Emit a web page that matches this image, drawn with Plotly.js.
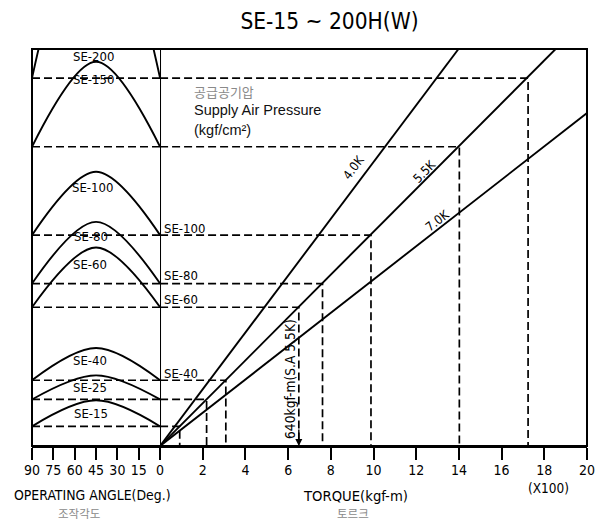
<!DOCTYPE html>
<html>
<head>
<meta charset="utf-8">
<script src="https://cdn.plot.ly/plotly-3.0.1.min.js"></script>
<style>html,body{margin:0;padding:0;background:#fff;}#chart{width:607px;height:520px;}</style>
</head>
<body>
<div id="chart"></div>
<script>
// ---- data ----
const models = ['SE-15', 'SE-25', 'SE-40', 'SE-60', 'SE-80', 'SE-100', 'SE-150', 'SE-200'];
// output torque at 5.5 kgf/cm2 (x100 kgf-m) = level of each dashed line
const torqueAt55 = [0.92, 2.18, 3.08, 6.5, 7.61, 9.88, 14.02, 17.24];
// top of each torque curve in the operating-angle panel (same units)
const curvePeak = [2.14, 3.31, 4.59, 9.30, 10.50, 12.85, 18.0, 26.3];
const curveAngles = [90, 45, 0];
// supply-pressure lines: end point of each line from the origin
const pressureNames = ['4.0K', '5.5K', '7.0K'];
const pressureEndTorque = [13.98, 18.53, 20];
const pressureEndLevel = [18.6, 18.6, 15.6];
const angleTicks = [90, 75, 60, 45, 30, 15, 0];
const torqueTicks = [2, 4, 6, 8, 10, 12, 14, 16, 18, 20];

// ---- layout helpers ----
const NARROW = '"Liberation Sans Narrow", "Arial Narrow", "DejaVu Sans Condensed", sans-serif';
const SANS = '"Liberation Sans", Arial, sans-serif';
const KR = '"Noto Sans CJK KR", "Noto Sans CJK SC", sans-serif';
const M = {l: 32, r: 20, t: 49, b: 74};
const W = 607, H = 520;
const PW = W - M.l - M.r, PH = H - M.t - M.b;
function P(px, py) { return {x: (px - M.l) / PW, y: (H - M.b - py) / PH, xref: 'paper', yref: 'paper'}; }
const splitFrac = 6 / 26;

const traces = [];
const solid = {color: '#000', width: 1.9};
const dashed = {color: '#000', width: 1.7, dash: '8px,4px'};

// torque curves (operating angle panel)
models.forEach((m, i) => {
  traces.push({x: curveAngles, y: [torqueAt55[i], curvePeak[i], torqueAt55[i]],
    xaxis: 'x2', yaxis: 'y', mode: 'lines', line: Object.assign({shape: 'spline', smoothing: 1}, solid),
    hoverinfo: 'skip', showlegend: false});
  traces.push({x: [curveAngles[0], curveAngles[2]], y: [torqueAt55[i], torqueAt55[i]],
    xaxis: 'x2', yaxis: 'y', mode: 'lines', line: dashed, hoverinfo: 'skip', showlegend: false});
  traces.push({x: [0, torqueAt55[i], torqueAt55[i]], y: [torqueAt55[i], torqueAt55[i], 0],
    xaxis: 'x', yaxis: 'y', mode: 'lines', line: dashed, hoverinfo: 'skip', showlegend: false});
});
// pressure lines
pressureNames.forEach((p, i) => {
  traces.push({x: [0, pressureEndTorque[i]], y: [0, pressureEndLevel[i]], xaxis: 'x', yaxis: 'y',
    mode: 'lines', line: solid, name: p, hoverinfo: 'skip', showlegend: false});
});

const tickFont = {family: NARROW, size: 14, color: '#000'};
const layout = {
  width: W, height: H, margin: M, paper_bgcolor: '#fff', plot_bgcolor: '#fff', showlegend: false,
  title: {text: 'SE-15 ~ 200H(W)', font: {family: NARROW, size: 22.5, color: '#000'},
    x: 329.5 / W, xref: 'container', xanchor: 'center', y: 1 - 21 / H, yref: 'container', yanchor: 'middle'},
  xaxis2: {domain: [0, splitFrac], range: [90, 0], anchor: 'y', tickvals: angleTicks, ticktext: angleTicks.map(String),
    ticks: 'outside', ticklen: 12, tickwidth: 2, tickcolor: '#000', tickfont: tickFont, ticklabelstandoff: -2,
    showgrid: false, zeroline: false, showline: true, linecolor: '#000', linewidth: 2},
  xaxis: {domain: [splitFrac, 1], range: [0, 20], anchor: 'y', tickvals: torqueTicks, ticktext: torqueTicks.map(String),
    ticks: 'outside', ticklen: 12, tickwidth: 2, tickcolor: '#000', tickfont: tickFont, ticklabelstandoff: -2,
    showgrid: false, zeroline: false, showline: true, linecolor: '#000', linewidth: 2},
  yaxis: {range: [0, 18.6], anchor: 'x2', showgrid: false, zeroline: false, showline: false,
    showticklabels: false, ticks: ''},
  shapes: [
    {type: 'rect', xref: 'paper', yref: 'paper', x0: 0, x1: 1, y0: 0, y1: 1, line: {color: '#000', width: 2}},
    {type: 'line', xref: 'x', yref: 'paper', x0: 0, x1: 0, y0: 0, y1: 1, line: {color: '#000', width: 1.9}}
  ],
  annotations: []
};

const A = layout.annotations;
function label(text, px, py, opts) {
  A.push(Object.assign(P(px, py), {text: text, showarrow: false, xanchor: 'center', yanchor: 'middle',
    font: {family: NARROW, size: 13, color: '#000'}}, opts || {}));
}
// axis titles
label('OPERATING ANGLE(Deg.)', 92, 495, {font: {family: NARROW, size: 13.9, color: '#000'}});
label('조작각도', 79, 513, {font: {family: KR, size: 11.5, color: '#8a8a8a'}});
label('TORQUE(kgf-m)', 355, 495, {font: {family: NARROW, size: 14.7, color: '#000'}});
label('토르크', 353, 513, {font: {family: KR, size: 11.5, color: '#8a8a8a'}});
label('(X100)', 548, 488, {font: {family: NARROW, size: 13.5, color: '#000'}});
// labels inside the curves
const innerPos = {'SE-15': [91, 413], 'SE-25': [90, 387], 'SE-40': [90, 360], 'SE-60': [90, 264],
  'SE-80': [91, 237], 'SE-100': [92, 187], 'SE-150': [93, 79], 'SE-200': [93, 56]};
models.forEach(m => label(m, innerPos[m][0], innerPos[m][1]));
// labels right of the divider
const rightPos = {'SE-100': 228, 'SE-80': 275, 'SE-60': 299, 'SE-40': 373};
Object.keys(rightPos).forEach(m => label(m, 162, rightPos[m], {xanchor: 'left'}));
// supply air pressure block
label('공급공기압', 192, 91, {xanchor: 'left', font: {family: KR, size: 13, color: '#8a8a8a'}});
label('Supply Air Pressure', 192, 110, {xanchor: 'left', font: {family: SANS, size: 14.5, color: '#111'}});
label('(kgf/cm²)', 192, 130, {xanchor: 'left', font: {family: SANS, size: 14.5, color: '#111'}});
// pressure line labels
label(pressureNames[0], 353, 167, {textangle: -53, font: {family: NARROW, size: 12.5, color: '#000'}});
label(pressureNames[1], 424, 171, {textangle: -46, font: {family: NARROW, size: 12.5, color: '#000'}});
label(pressureNames[2], 437, 220, {textangle: -38, font: {family: NARROW, size: 12.5, color: '#000'}});
// 640 kgf-m marker
label('640kgf-m(S.A 5.5K)', 290, 379, {textangle: -90, font: {family: NARROW, size: 13.7, color: '#000'}});
A.push({x: torqueAt55[3], y: 0, xref: 'x', yref: 'y', text: '', showarrow: true, ax: 0, ay: -18,
  arrowhead: 2, arrowsize: 1, arrowwidth: 1.4, arrowcolor: '#000', standoff: 0});

Plotly.newPlot('chart', traces, layout, {staticPlot: true, displayModeBar: false});
</script>
</body>
</html>
